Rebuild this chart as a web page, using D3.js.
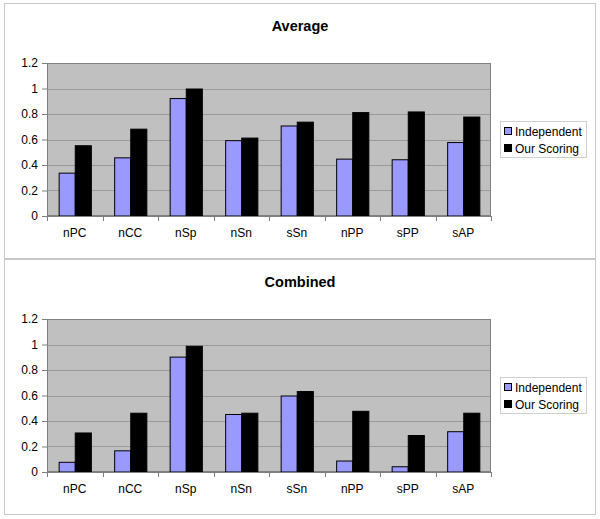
<!DOCTYPE html>
<html>
<head>
<meta charset="utf-8">
<script src="https://cdn.jsdelivr.net/npm/d3@7"></script>
<style>
  html, body { margin: 0; padding: 0; background: #fff; }
  svg { display: block; font-family: "Liberation Sans", Arial, sans-serif; }
</style>
</head>
<body>
<svg id="chart" width="600" height="519"></svg>
<script>
const categories = ["nPC", "nCC", "nSp", "nSn", "sSn", "nPP", "sPP", "sAP"];
const seriesNames = ["Independent", "Our Scoring"];
const averageIndependent = [0.34, 0.46, 0.925, 0.595, 0.71, 0.45, 0.445, 0.58];
const averageOurScoring  = [0.555, 0.685, 1.0, 0.615, 0.74, 0.815, 0.82, 0.78];
const combinedIndependent = [0.08, 0.17, 0.905, 0.455, 0.60, 0.09, 0.045, 0.32];
const combinedOurScoring  = [0.31, 0.465, 0.99, 0.465, 0.635, 0.48, 0.29, 0.465];
const yTicks = [0, 0.2, 0.4, 0.6, 0.8, 1, 1.2];
const titles = ["Average", "Combined"];

const panels = [
  { title: titles[0], series: [averageIndependent, averageOurScoring], top: 3 },
  { title: titles[1], series: [combinedIndependent, combinedOurScoring], top: 259 }
];
const colors = ["#9999FF", "#000000"];

const svg = d3.select("#chart");

panels.forEach(p => {
  const g = svg.append("g").attr("transform", `translate(0,${p.top})`);
  // outer border
  g.append("rect").attr("x", 4.5).attr("y", 0.5).attr("width", 591).attr("height", 255)
    .attr("fill", "#fff").attr("stroke", "#c8c8c8");

  const plot = { left: 47, right: 491, top: 60, bottom: 213 };

  const x = d3.scaleBand().domain(categories).range([plot.left, plot.right])
    .paddingInner(0.42).paddingOuter(0.21);
  const xs = d3.scaleBand().domain(seriesNames).range([0, x.bandwidth()]);
  const y = d3.scaleLinear().domain([0, 1.2]).range([plot.bottom, plot.top]);

  // title
  g.append("text").attr("x", 300).attr("y", 28).attr("text-anchor", "middle")
    .attr("font-size", 14.5).attr("font-weight", "bold").text(p.title);

  // plot background
  g.append("rect").attr("x", plot.left).attr("y", plot.top)
    .attr("width", plot.right - plot.left).attr("height", plot.bottom - plot.top)
    .attr("fill", "#C0C0C0");

  // gridlines
  g.append("g").selectAll("line").data(yTicks.filter(t => t > 0 && t < 1.2)).join("line")
    .attr("x1", plot.left).attr("x2", plot.right)
    .attr("y1", d => Math.round(y(d)) + 0.5).attr("y2", d => Math.round(y(d)) + 0.5)
    .attr("stroke", "#9a9a9a").attr("stroke-width", 1);

  // border of plot area
  g.append("rect").attr("x", plot.left + 0.5).attr("y", plot.top + 0.5)
    .attr("width", plot.right - plot.left - 1).attr("height", plot.bottom - plot.top - 1)
    .attr("fill", "none").attr("stroke", "#808080");

  // bars
  p.series.forEach((vals, si) => {
    g.append("g").selectAll("rect").data(categories).join("rect")
      .attr("x", (d) => x(d) + xs(seriesNames[si]) + 0.5)
      .attr("y", (d, i) => y(vals[i]) + 0.5)
      .attr("width", xs.bandwidth())
      .attr("height", (d, i) => y(0) - y(vals[i]) - 0.5)
      .attr("fill", colors[si]).attr("stroke", "#000").attr("stroke-width", 1);
  });

  // y axis
  const yAxis = d3.axisLeft(y).tickValues(yTicks).tickSize(5).tickPadding(4)
    .tickFormat(d => d3.format("")(+d.toFixed(1)));
  const ya = g.append("g").attr("transform", `translate(${plot.left},0)`).call(yAxis);
  ya.select(".domain").attr("stroke", "#808080");
  ya.selectAll(".tick line").attr("stroke", "#808080");
  ya.selectAll(".tick text").attr("font-size", 12).attr("fill", "#000")
    .attr("font-family", "Liberation Sans, Arial, sans-serif");

  // x axis
  const xa = g.append("g").attr("transform", `translate(0,${plot.bottom})`);
  xa.append("line").attr("x1", plot.left).attr("x2", plot.right).attr("y1", 0.5).attr("y2", 0.5)
    .attr("stroke", "#808080");
  const step = x.step();
  const boundaries = d3.range(categories.length + 1).map(i => plot.left + i * (plot.right - plot.left) / categories.length);
  xa.selectAll("line.b").data(boundaries).join("line").attr("class", "b")
    .attr("x1", d => Math.round(d) + 0.5).attr("x2", d => Math.round(d) + 0.5)
    .attr("y1", 0).attr("y2", 5).attr("stroke", "#808080");
  xa.selectAll("text").data(categories).join("text")
    .attr("x", d => x(d) + x.bandwidth() / 2).attr("y", 21)
    .attr("text-anchor", "middle").attr("font-size", 12).attr("fill", "#000").text(d => d);

  // legend
  const lg = g.append("g").attr("transform", "translate(500,118)");
  lg.append("rect").attr("x", 0.5).attr("y", 0.5).attr("width", 86).attr("height", 36)
    .attr("fill", "#fff").attr("stroke", "#cfcfcf");
  seriesNames.forEach((n, i) => {
    lg.append("rect").attr("x", 4.5).attr("y", 6.5 + i * 17).attr("width", 7).attr("height", 7)
      .attr("fill", colors[i]).attr("stroke", "#000");
    lg.append("text").attr("x", 15).attr("y", 14.5 + i * 17).attr("font-size", 12)
      .attr("fill", "#000").text(n);
  });
});
</script>
</body>
</html>
